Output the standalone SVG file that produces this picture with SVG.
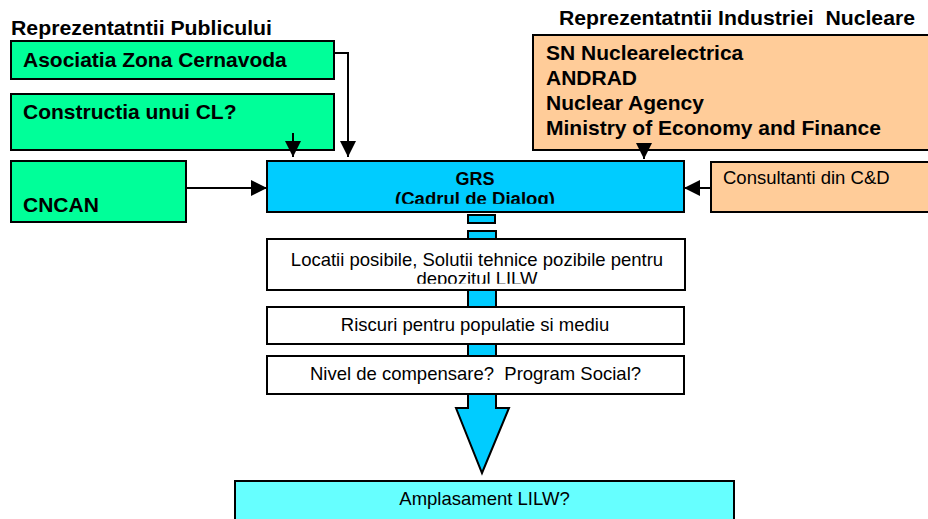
<svg xmlns="http://www.w3.org/2000/svg" width="928" height="519" viewBox="0 0 928 519">
<style>
.box{stroke:#000;stroke-width:2}
.green{fill:#00FF99}
.orange{fill:#FFCC99}
.blue{fill:#00CCFF}
.cyan{fill:#66FFFF}
.white{fill:#fff}
.b{font-family:"Liberation Sans",Arial,sans-serif;font-weight:bold;fill:#000}
.r{font-family:"Liberation Sans",Arial,sans-serif;font-size:18.5px;fill:#000}
.t{font-size:20px}
.big{font-size:21px}
.grs{font-size:18px}
.line{stroke:#000;stroke-width:2;fill:none}
</style>
<defs>
<marker id="ah" markerUnits="userSpaceOnUse" markerWidth="16" markerHeight="16" viewBox="0 0 16 16" refX="16" refY="8" orient="auto">
<path d="M0,0 L16,8 L0,16 Z" fill="#000"/>
</marker>
<clipPath id="clipGrs"><rect x="267" y="161" width="417" height="42.8"/></clipPath>
<clipPath id="clipLoc"><rect x="267" y="239" width="418" height="44.8"/></clipPath>
</defs>
<rect width="928" height="519" fill="#fff"/>

<text class="b t" x="11" y="35" textLength="261" lengthAdjust="spacingAndGlyphs">Reprezentatntii Publicului</text>
<text class="b t" x="559" y="25" textLength="356" lengthAdjust="spacingAndGlyphs">Reprezentatntii Industriei&#160; Nucleare</text>

<g id="asociatia">
<rect class="box green" x="11" y="41" width="323" height="38"/>
<text class="b big" x="23" y="67">Asociatia Zona Cernavoda</text>
</g>
<g id="constructia">
<rect class="box green" x="11" y="94" width="323" height="56"/>
<text class="b big" x="23" y="119">Constructia unui CL?</text>
</g>
<g id="cncan">
<rect class="box green" x="11" y="161" width="175" height="61"/>
<text class="b big" x="23" y="212">CNCAN</text>
</g>
<g id="industrie">
<rect class="box orange" x="533" y="35" width="400" height="115"/>
<text class="b big" x="546" y="60">SN Nuclearelectrica</text>
<text class="b big" x="546" y="85">ANDRAD</text>
<text class="b big" x="546" y="110">Nuclear Agency</text>
<text class="b big" x="546" y="135">Ministry of Economy and Finance</text>
</g>
<g id="consultanti">
<rect class="box orange" x="711" y="162" width="230" height="50"/>
<text class="r" x="723" y="184">Consultanti din C&amp;D</text>
</g>

<g id="flow-arrow">
<rect class="box blue" x="468" y="215" width="27" height="8"/>
<path class="box blue" d="M468,231 H496 V408 H509 L482,473 L456,408 H468 Z"/>
</g>

<g id="grs">
<rect class="box blue" x="267" y="161" width="417" height="51"/>
<g clip-path="url(#clipGrs)">
<text class="b grs" x="475" y="185" text-anchor="middle">GRS</text>
<text class="b grs" x="475" y="204.5" text-anchor="middle" textLength="160" lengthAdjust="spacingAndGlyphs">(Cadrul de Dialog)</text>
</g>
</g>
<g id="locatii">
<rect class="box white" x="267" y="239" width="418" height="51"/>
<g clip-path="url(#clipLoc)">
<text class="r" x="477" y="265.5" text-anchor="middle">Locatii posibile, Solutii tehnice pozibile pentru</text>
<text class="r" x="477" y="285" text-anchor="middle">depozitul LILW</text>
</g>
</g>
<g id="riscuri">
<rect class="box white" x="267" y="307" width="417" height="37"/>
<text class="r" x="475" y="331" text-anchor="middle">Riscuri pentru populatie si mediu</text>
</g>
<g id="nivel">
<rect class="box white" x="267" y="356" width="417" height="38"/>
<text class="r" x="475.5" y="380" text-anchor="middle" xml:space="preserve">Nivel de compensare?  Program Social?</text>
</g>
<g id="amplasament">
<rect class="box cyan" x="235" y="481" width="499" height="42"/>
<text class="r" x="484.5" y="505" text-anchor="middle">Amplasament LILW?</text>
</g>

<g id="connectors">
<path class="line" d="M334,53 H348 V157" marker-end="url(#ah)"/>
<path class="line" d="M293,133 V157" marker-end="url(#ah)"/>
<path class="line" d="M644,150 V159" marker-end="url(#ah)"/>
<path class="line" d="M186,188 H267" marker-end="url(#ah)"/>
<path class="line" d="M711,188 H684" marker-end="url(#ah)"/>
</g>
</svg>
